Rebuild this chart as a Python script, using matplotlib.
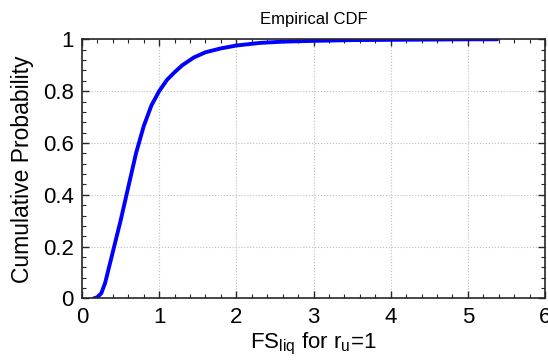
import matplotlib
matplotlib.use("Agg")
import matplotlib.pyplot as plt
from matplotlib.ticker import MultipleLocator

plt.rcParams['font.family'] = ['Liberation Sans', 'DejaVu Sans']
plt.rcParams['mathtext.fontset'] = 'custom'
plt.rcParams['mathtext.rm'] = 'Liberation Sans'

# empirical CDF
fs_liq = [0.15, 0.20, 0.25, 0.30, 0.35, 0.40, 0.50, 0.60, 0.70, 0.80, 0.90,
          1.00, 1.10, 1.20, 1.30, 1.45, 1.60, 1.80, 2.00, 2.30, 2.60, 3.00,
          3.50, 4.00, 4.50, 5.00, 5.38]
cum_prob = [0.0, 0.005, 0.02, 0.06, 0.12, 0.18, 0.30, 0.43, 0.56, 0.665, 0.745,
            0.80, 0.843, 0.873, 0.900, 0.930, 0.950, 0.965, 0.976, 0.986, 0.991,
            0.994, 0.997, 0.998, 0.999, 1.0, 1.0]

x_ticks = [0, 1, 2, 3, 4, 5, 6]
y_ticks = [0, 0.2, 0.4, 0.6, 0.8, 1]
y_tick_labels = ['0', '0.2', '0.4', '0.6', '0.8', '1']

fig = plt.figure(figsize=(5.48, 3.64), dpi=100)
ax = fig.add_axes([0.1496, 0.18, 0.845, 0.712])

ax.plot(fs_liq, cum_prob, color='#0000ff', lw=2.8, solid_capstyle='round')

ax.set_xlim(0, 6)
ax.set_ylim(0, 1)
ax.set_xticks(x_ticks)
ax.set_yticks(y_ticks)
ax.set_yticklabels(y_tick_labels)
ax.xaxis.set_minor_locator(MultipleLocator(0.2))
ax.yaxis.set_minor_locator(MultipleLocator(0.04))

ax.grid(True, which='major', ls=':', color='#bdbdbd', lw=0.8)
ax.tick_params(which='both', direction='in', top=True, right=True,
               colors='#262626', labelcolor='black')
ax.tick_params(which='major', length=5, width=1, labelsize=16, pad=6)
ax.tick_params(which='minor', length=3, width=0.8)
for s in ax.spines.values():
    s.set_linewidth(1.2)
    s.set_color('#262626')

ax.set_title('Empirical CDF', fontsize=12, pad=11)
ax.set_xlabel(r'FS$_{\mathrm{liq}}$ for r$_{\mathrm{u}}$=1', fontsize=16, labelpad=2)
ax.set_ylabel('Cumulative Probability', fontsize=16.5, labelpad=6)

fig.savefig('out.png', dpi=100)
